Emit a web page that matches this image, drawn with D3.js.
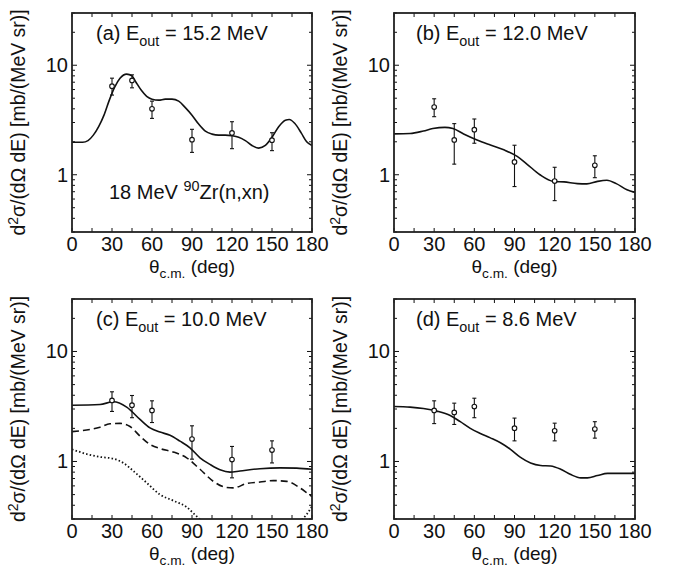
<!DOCTYPE html>
<html><head><meta charset="utf-8">
<script src="https://cdn.jsdelivr.net/npm/d3@7"></script>
<style>
html,body{margin:0;padding:0;background:#fff;}
text{font-family:"Liberation Sans",Arial,Helvetica,sans-serif;fill:#111;}
</style></head>
<body>
<svg id="chart" width="678" height="569"></svg>
<script>
// ---------- data ----------
const expTheta = [30, 45, 60, 90, 120, 150];

const expA   = [6.44, 7.26, 4.0, 2.09, 2.41, 2.07];
const expALo = [5.34, 6.22, 3.27, 1.6, 1.73, 1.66];
const expAHi = [7.62, 8.17, 4.7, 2.6, 3.05, 2.42];

const expB   = [4.15, 2.08, 2.58, 1.31, 0.875, 1.22];
const expBLo = [3.39, 1.25, 1.94, 0.78, 0.58, 0.94];
const expBHi = [4.94, 2.93, 3.23, 1.86, 1.17, 1.49];

const expC   = [3.59, 3.25, 2.91, 1.6, 1.04, 1.27];
const expCLo = [2.85, 2.5, 2.26, 1.05, 0.71, 0.97];
const expCHi = [4.3, 3.98, 3.56, 2.11, 1.37, 1.54];

const expD   = [2.91, 2.79, 3.16, 2.01, 1.9, 1.97];
const expDLo = [2.21, 2.17, 2.5, 1.54, 1.54, 1.63];
const expDHi = [3.56, 3.39, 3.76, 2.48, 2.23, 2.3];

const curveATheta = [0, 8, 12, 16, 20, 24, 28, 32, 36, 41, 45, 48, 52, 56, 60, 65, 70, 75, 80, 85, 90, 95, 100, 105, 110, 115, 120, 125, 130, 135, 140, 145, 150, 155, 160, 163, 167, 172, 176, 180];
const curveAVal   = [1.98, 1.98, 2.05, 2.3, 2.75, 3.5, 4.8, 6.3, 7.6, 8.3, 8.0, 7.0, 5.9, 5.2, 4.9, 4.8, 4.9, 4.9, 4.7, 4.1, 3.5, 2.9, 2.5, 2.35, 2.3, 2.3, 2.27, 2.2, 2.05, 1.85, 1.75, 1.85, 2.2, 2.75, 3.15, 3.2, 2.95, 2.4, 2.0, 1.85];

const curveBTheta = [0, 12, 22, 29, 38, 44, 52, 62, 72, 82, 92, 99, 109, 119, 127, 137, 144, 152, 159, 166, 174, 180];
const curveBVal   = [2.36, 2.38, 2.51, 2.64, 2.71, 2.64, 2.36, 2.08, 1.87, 1.69, 1.47, 1.26, 1.0, 0.87, 0.86, 0.83, 0.825, 0.87, 0.89, 0.83, 0.73, 0.69];

const curveCTheta = [0, 21, 31, 41, 51, 58.5, 66, 73.5, 81, 88.5, 96, 103.5, 111, 118.5, 126, 141, 156, 168.5, 180];
const curveCVal   = [3.25, 3.3, 3.49, 3.12, 2.41, 2.02, 1.85, 1.73, 1.53, 1.33, 1.08, 0.94, 0.84, 0.80, 0.82, 0.86, 0.875, 0.87, 0.85];

const dashCTheta = [0, 21, 28.5, 36, 43.5, 51, 58.5, 66, 76, 86, 96, 106, 116, 121, 131, 141, 151, 161, 171, 177, 180];
const dashCVal   = [1.87, 2.05, 2.2, 2.22, 2.08, 1.7, 1.43, 1.31, 1.22, 1.08, 0.85, 0.66, 0.58, 0.575, 0.63, 0.65, 0.67, 0.66, 0.575, 0.51, 0.48];

const dotCTheta = [0, 12, 21, 31, 38.5, 46, 56, 66, 76, 86, 92, 100, 120, 140, 160, 170, 176, 180];
const dotCVal   = [1.29, 1.16, 1.10, 1.06, 0.97, 0.82, 0.64, 0.50, 0.44, 0.385, 0.33, 0.27, 0.22, 0.21, 0.24, 0.28, 0.33, 0.39];

const curveDTheta = [0, 12, 22, 32, 42, 49.5, 57, 64.5, 72, 79.5, 87, 94.5, 102, 109.5, 117, 124.5, 132, 139.5, 144.5, 152, 159.5, 172, 180];
const curveDVal   = [3.16, 3.12, 3.03, 2.87, 2.62, 2.3, 2.0, 1.8, 1.64, 1.48, 1.29, 1.09, 0.97, 0.92, 0.91, 0.85, 0.76, 0.71, 0.71, 0.745, 0.78, 0.78, 0.78];

const xTickLabels = [0, 30, 60, 90, 120, 150, 180];
const yTickLabels = [1, 10];

const panelLabels = [
  {letter: "(a)", e: "15.2"},
  {letter: "(b)", e: "12.0"},
  {letter: "(c)", e: "10.0"},
  {letter: "(d)", e: "8.6"}
];

// ---------- layout ----------
const svg = d3.select("#chart");
const boxes = [
  {l: 72, r: 312, t: 13, b: 232},
  {l: 394, r: 635, t: 13, b: 232},
  {l: 72, r: 312, t: 299, b: 519},
  {l: 394, r: 635, t: 299, b: 519}
];

const panels = [
  {exp: expA, lo: expALo, hi: expAHi, lines: [{t: curveATheta, v: curveAVal, dash: null}]},
  {exp: expB, lo: expBLo, hi: expBHi, lines: [{t: curveBTheta, v: curveBVal, dash: null}]},
  {exp: expC, lo: expCLo, hi: expCHi, lines: [
    {t: curveCTheta, v: curveCVal, dash: null},
    {t: dashCTheta, v: dashCVal, dash: "7,4"},
    {t: dotCTheta, v: dotCVal, dash: "1.5,2.2"}]},
  {exp: expD, lo: expDLo, hi: expDHi, lines: [{t: curveDTheta, v: curveDVal, dash: null}]}
];

const FS = 20;
const color = "#111";

panels.forEach((p, i) => {
  const bx = boxes[i];
  const x = d3.scaleLinear().domain([0, 180]).range([bx.l, bx.r]);
  const y = d3.scaleLog().domain([0.3, 30]).range([bx.b, bx.t]);
  const g = svg.append("g");
  const clipId = "clip" + i;
  g.append("clipPath").attr("id", clipId).append("rect")
    .attr("x", bx.l).attr("y", bx.t).attr("width", bx.r - bx.l).attr("height", bx.b - bx.t);

  // ticks (inward, all four sides)
  const xt = d3.range(0, 181, 15);
  const yMinor = [0.3,0.4,0.5,0.6,0.7,0.8,0.9,2,3,4,5,6,7,8,9,20,30];
  const tk = g.append("g").attr("stroke", color).attr("stroke-width", 1);
  xt.forEach(t => {
    tk.append("line").attr("x1", x(t)).attr("x2", x(t)).attr("y1", bx.b).attr("y2", bx.b - 4);
    tk.append("line").attr("x1", x(t)).attr("x2", x(t)).attr("y1", bx.t).attr("y2", bx.t + 4);
  });
  yMinor.forEach(v => {
    tk.append("line").attr("x1", bx.l).attr("x2", bx.l + 3).attr("y1", y(v)).attr("y2", y(v));
    tk.append("line").attr("x1", bx.r).attr("x2", bx.r - 3).attr("y1", y(v)).attr("y2", y(v));
  });
  yTickLabels.forEach(v => {
    tk.append("line").attr("x1", bx.l).attr("x2", bx.l + 5).attr("y1", y(v)).attr("y2", y(v));
    tk.append("line").attr("x1", bx.r).attr("x2", bx.r - 5).attr("y1", y(v)).attr("y2", y(v));
  });

  // tick labels
  xTickLabels.forEach(t => {
    g.append("text").attr("x", x(t)).attr("y", bx.b + 19).attr("text-anchor", "middle")
      .attr("font-size", FS).text(t);
  });
  yTickLabels.forEach(v => {
    g.append("text").attr("x", bx.l - 4).attr("y", y(v) + 7).attr("text-anchor", "end")
      .attr("font-size", FS).text(v);
  });

  // curves
  p.lines.forEach(ln => {
    const pts = ln.t.map((t, k) => [t, ln.v[k]]);
    const line = d3.line().x(d => x(d[0])).y(d => y(d[1])).curve(d3.curveMonotoneX);
    g.append("path").attr("d", line(pts)).attr("fill", "none").attr("stroke", color)
      .attr("stroke-width", ln.dash && ln.dash.startsWith("1.5") ? 1.8 : 1.6)
      .attr("stroke-dasharray", ln.dash).attr("clip-path", `url(#${clipId})`);
  });

  // data points
  expTheta.forEach((t, k) => {
    const cx = x(t);
    const e = g.append("g").attr("stroke", color).attr("stroke-width", 1.1).attr("fill", "none");
    e.append("line").attr("x1", cx).attr("x2", cx).attr("y1", y(p.lo[k])).attr("y2", y(p.hi[k]));
    e.append("line").attr("x1", cx - 2).attr("x2", cx + 2).attr("y1", y(p.lo[k])).attr("y2", y(p.lo[k]));
    e.append("line").attr("x1", cx - 2).attr("x2", cx + 2).attr("y1", y(p.hi[k])).attr("y2", y(p.hi[k]));
    e.append("circle").attr("cx", cx).attr("cy", y(p.exp[k])).attr("r", 2.3).attr("fill", "#fff");
  });

  // frame
  g.append("rect").attr("x", bx.l).attr("y", bx.t).attr("width", bx.r - bx.l).attr("height", bx.b - bx.t)
    .attr("fill", "none").attr("stroke", "#222").attr("stroke-width", 1.8);

  // panel label
  const lbl = g.append("text").attr("x", bx.l + (i % 2 === 0 ? 24 : 22)).attr("y", bx.t + 27).attr("font-size", FS);
  lbl.append("tspan").text(panelLabels[i].letter + " E");
  lbl.append("tspan").attr("font-size", FS * 0.72).attr("dy", 6).text("out");
  lbl.append("tspan").attr("dy", -6).text(" = " + panelLabels[i].e + " MeV");

  // x axis title
  const xt2 = g.append("text").attr("x", (bx.l + bx.r) / 2).attr("y", bx.b + 41).attr("text-anchor", "middle").attr("font-size", 19);
  xt2.append("tspan").text("θ");
  xt2.append("tspan").attr("font-size", 19 * 0.72).attr("dy", 5).text("c.m.");
  xt2.append("tspan").attr("dy", -5).text(" (deg)");

  // y axis title
  const cy = (bx.t + bx.b) / 2;
  const yx = bx.l - 47;
  const yt = g.append("text").attr("transform", `translate(${yx},${cy}) rotate(-90)`)
    .attr("text-anchor", "middle").attr("font-size", FS * 0.97);
  yt.append("tspan").text("d");
  yt.append("tspan").attr("font-size", FS * 0.7).attr("dy", -7).text("2");
  yt.append("tspan").attr("dy", 7).text("σ/(dΩ dE) [mb/(MeV sr)]");
});

// reaction label in panel (a)
{
  const bx = boxes[0];
  const t = svg.append("text").attr("x", bx.l + 37).attr("y", 199).attr("font-size", FS);
  t.append("tspan").text("18 MeV ");
  t.append("tspan").attr("font-size", FS * 0.72).attr("dy", -8).text("90");
  t.append("tspan").attr("dy", 8).text("Zr(n,xn)");
}
</script>
</body></html>
